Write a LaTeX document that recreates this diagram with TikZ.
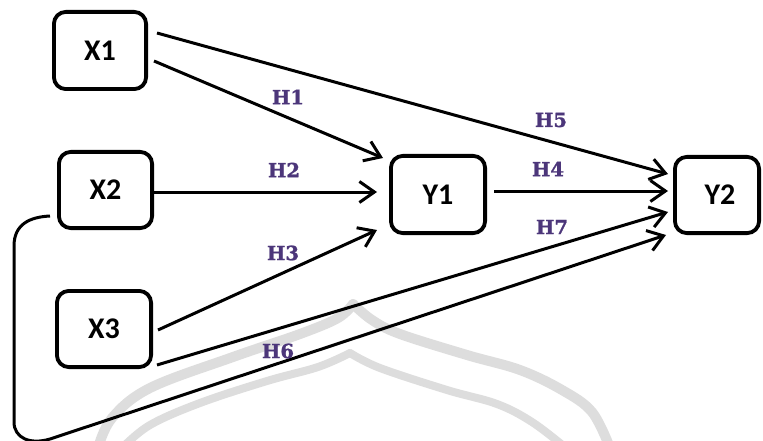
\documentclass[tikz,border=0pt]{standalone}
\usepackage{fontspec}
\setmainfont{Carlito}
\newfontfamily\hfont[FakeBold=1.3]{DejaVu Serif Bold}
\usetikzlibrary{arrows.meta}
\definecolor{hpurple}{RGB}{76,54,122}
\definecolor{wm}{RGB}{221,221,221}
\begin{document}
\begin{tikzpicture}[x=1pt,y=-1pt,
  box/.style={draw, line width=3.8pt, rounded corners=12pt, inner sep=0pt,
    font=\bfseries\fontsize{30}{30}\selectfont},
  conn/.style={line width=3pt, -{Straight Barb[length=15pt,width=21pt]}},
  hyp/.style={font=\hfont\fontsize{19.5}{19.5}\selectfont, text=hpurple, inner sep=0pt},
  watermark/.style={draw=wm, line cap=round}]
\useasboundingbox (0,0) rectangle (763,441);
\clip (0,0) rectangle (763,441);
\fill[white] (0,0) rectangle (763,441);

% watermark (faint logo outline)
\draw[watermark, line width=10pt] plot[smooth, tension=0.6] coordinates {(98,448) (112,418) (150,388) (233,357) (300,334) (338,318) (353,304)};
\draw[watermark, line width=10pt] plot[smooth, tension=0.6] coordinates {(353,304) (372,320) (400,334) (467,355) (520,370) (562,390) (592,412) (610,448)};
\draw[watermark, line width=8pt] plot[smooth, tension=0.6] coordinates {(122,448) (150,425) (200,403) (267,381) (318,367) (350,353)};
\draw[watermark, line width=8pt] plot[smooth, tension=0.6] coordinates {(350,353) (380,368) (447,390) (497,404) (532,422) (566,448)};

% boxes
\node[box, minimum width=92.2pt, minimum height=77.2pt] (X1) at (100,50.5) {X1};
\node[box, minimum width=93.2pt, minimum height=76.2pt] (X2) at (105.5,190) {X2};
\node[box, minimum width=94.2pt, minimum height=76.2pt] (X3) at (104,329) {X3};
\node[box, minimum width=94.2pt, minimum height=77.2pt] (Y1) at (438,194.5) {Y1};
\node[box, minimum width=84.2pt, minimum height=76.2pt] (Y2) at (717,195) {\hspace*{6pt}Y2};

% connector end points
\coordinate (s5) at (157,33);   \coordinate (t5) at (668,174);
\coordinate (s1) at (154,61);   \coordinate (t1) at (383,158);
\coordinate (s2) at (154,192);  \coordinate (t2) at (377,192);
\coordinate (s4) at (494,191);  \coordinate (t4) at (668,191);
\coordinate (s3) at (158,330);  \coordinate (t3) at (377,230);
\coordinate (s7) at (157,365);  \coordinate (t7) at (668,212);
\coordinate (s6) at (50,216);   \coordinate (t6) at (666,235);

% connectors
\draw[conn] (s5) -- (t5);
\draw[conn] (s1) -- (t1);
\draw[conn] (s2) -- (t2);
\draw[conn] (s4) -- (t4);
\draw[conn] (s3) -- (t3);
\draw[conn] (s7) -- (t7);
\draw[conn] (s6) .. controls (30,217) and (14,224) .. (14,246) -- (14,422)
   .. controls (14,438) and (30,445) .. (50,439) -- (t6);

% hypothesis labels
\foreach \n/\x/\y in {H1/288/97, H2/284/170, H3/283/253, H4/548/169, H5/551/120, H6/278/351, H7/552/227}{
  \node[hyp] (\n) at (\x,\y) {\n};
}
\end{tikzpicture}
\end{document}
